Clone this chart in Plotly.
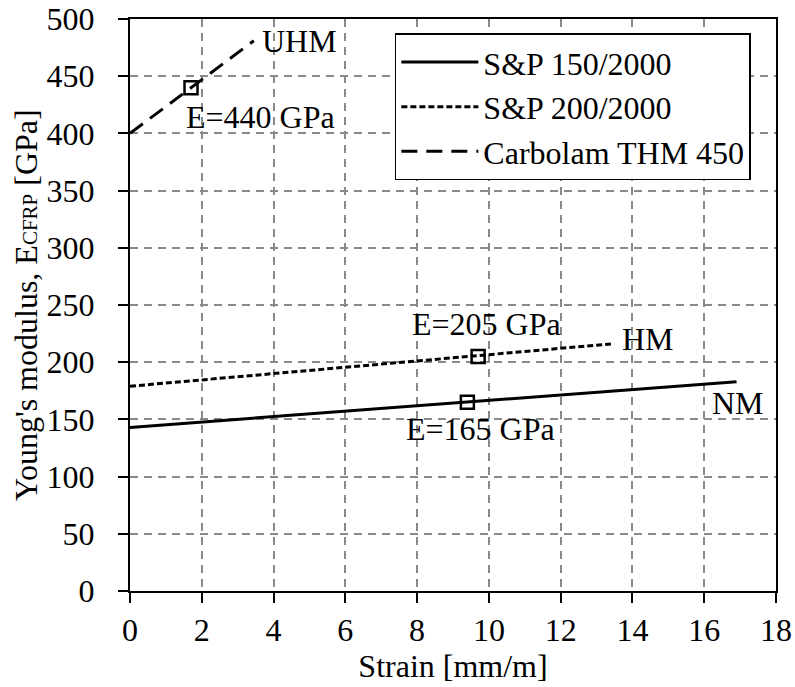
import plotly.graph_objects as go

# Series (strain [mm/m], modulus [GPa])
nm_x = [0, 16.9]
nm_y = [143, 183]
hm_x = [0, 13.4]
hm_y = [179, 216]
uhm_x = [0, 3.45]
uhm_y = [400, 481]

series_names = ["S&P 150/2000", "S&P 200/2000", "Carbolam THM 450"]

# Highlight points
pt_x = [9.4, 9.7, 1.7]
pt_y = [165, 205, 440]

# Annotations
ann_text = ["E=165 GPa", "E=205 GPa", "E=440 GPa", "NM", "HM", "UHM"]
ann_x = [9.78, 9.93, 3.65, 16.2, 13.69, 3.66]
ann_y = [142, 233, 414, 164, 220, 481]
ann_anchor = ["center", "center", "center", "left", "left", "left"]

x_ticks = list(range(0, 19, 2))
y_ticks = list(range(0, 501, 50))

x_title = "Strain [mm/m]"
y_title = "Young's modulus, E<span style='font-size:21px'>CFRP</span> [GPa]"

FONT = "Liberation Serif"
FS = 32

fig = go.Figure()
fig.add_trace(go.Scatter(x=nm_x, y=nm_y, mode="lines", name=series_names[0],
                         line=dict(color="black", width=3)))
fig.add_trace(go.Scatter(x=hm_x, y=hm_y, mode="lines", name=series_names[1],
                         line=dict(color="black", width=3, dash="6px,3px")))
fig.add_trace(go.Scatter(x=uhm_x, y=uhm_y, mode="lines", name=series_names[2],
                         line=dict(color="black", width=3, dash="16px,9px")))
fig.add_trace(go.Scatter(x=pt_x, y=pt_y, mode="markers", showlegend=False,
                         marker=dict(symbol="square-open", size=13, color="black",
                                     line=dict(width=2.5, color="black"))))

for t, x, y, a in zip(ann_text, ann_x, ann_y, ann_anchor):
    fig.add_annotation(x=x, y=y, text=t, showarrow=False, xanchor=a, yanchor="middle",
                       borderpad=0, font=dict(family=FONT, size=FS, color="black"))

# y-axis title as rotated annotation left of the tick labels
fig.add_annotation(xref="paper", yref="paper", x=0, y=0.5, xshift=-104,
                   text=y_title, textangle=-90, showarrow=False,
                   xanchor="center", yanchor="middle", borderpad=0,
                   font=dict(family=FONT, size=FS, color="black"))

axis_common = dict(
    showline=True, linecolor="black", linewidth=2, mirror=True,
    ticks="outside", ticklen=10, tickcolor="black", tickwidth=1.5,
    showgrid=True, gridcolor="#8a8a8a", gridwidth=1.5, griddash="8px,6px",
    zeroline=False, tickfont=dict(family=FONT, size=FS, color="black"),
    automargin=False,
)

fig.update_xaxes(range=[0, 18], tickvals=x_ticks,
                 title=dict(text=x_title, font=dict(family=FONT, size=FS, color="black"),
                            standoff=2),
                 **axis_common)
fig.update_yaxes(range=[0, 500], tickvals=y_ticks, ticklabelstandoff=17,
                 **axis_common)

fig.update_layout(
    width=795, height=687,
    margin=dict(l=130, r=19, t=19, b=96),
    plot_bgcolor="white", paper_bgcolor="white",
    font=dict(family=FONT, size=FS, color="black"),
    legend=dict(x=0.41, y=0.975, xanchor="left", yanchor="top",
                bgcolor="white", bordercolor="black", borderwidth=1.5,
                font=dict(family=FONT, size=FS, color="black"),
                itemwidth=77, tracegroupgap=0),
    showlegend=True,
)

fig.write_html("out.html")
